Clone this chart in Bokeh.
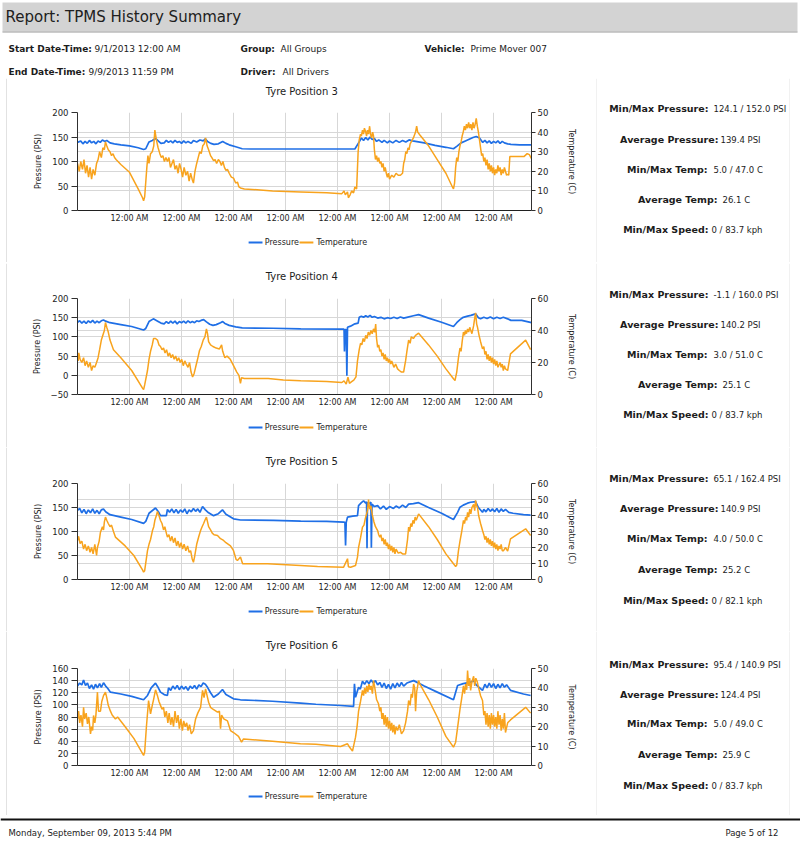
import datetime as dt
from bokeh.plotting import figure
from bokeh.models import Range1d, LinearAxis, Label, FixedTicker, DatetimeTickFormatter, Grid
from bokeh.layouts import column, row
from bokeh.embed import file_html
from bokeh.resources import INLINE

# ---------------- data ----------------
REPORT_TITLE = "Report: TPMS History Summary"
HEADER_FIELDS = [
    ("Start Date-Time:", "9/1/2013 12:00 AM"),
    ("Group:", "All Groups"),
    ("Vehicle:", "Prime Mover 007"),
    ("End Date-Time:", "9/9/2013 11:59 PM"),
    ("Driver:", "All Drivers"),
]
FOOTER_LEFT = "Monday, September 09, 2013 5:44 PM"
FOOTER_RIGHT = "Page 5 of 12"

START = dt.datetime(2013, 9, 1, 0, 0)
END_HOURS = 209.5                       # last sample, hours after START
DAY_TICKS = [1, 2, 3, 4, 5, 6, 7, 8]    # midnights shown on the time axis

SERIES_NAMES = ["Pressure", "Temperature"]
STAT_LABELS = ["Min/Max Pressure:", "Average Pressure:", "Min/Max Temp:", "Average Temp:", "Min/Max Speed:"]

TYRE_TITLES = ["Tyre Position  3", "Tyre Position  4", "Tyre Position  5", "Tyre Position  6"]

TYRE3_STATS = ["124.1 / 152.0 PSI", "139.4 PSI", "5.0 / 47.0 C", "26.1 C", "0 / 83.7 kph"]
TYRE4_STATS = ["-1.1 / 160.0 PSI", "140.2 PSI", "3.0 / 51.0 C", "25.1 C", "0 / 83.7 kph"]
TYRE5_STATS = ["65.1 / 162.4 PSI", "140.9 PSI", "4.0 / 50.0 C", "25.2 C", "0 / 82.1 kph"]
TYRE6_STATS = ["95.4 / 140.9 PSI", "124.4 PSI", "5.0 / 49.0 C", "25.9 C", "0 / 83.7 kph"]

TYRE3_P_TICKS = [0, 50, 100, 150, 200]
TYRE3_T_TICKS = [0, 10, 20, 30, 40, 50]
TYRE4_P_TICKS = [-50, 0, 50, 100, 150, 200]
TYRE4_T_TICKS = [0, 20, 40, 60]
TYRE5_P_TICKS = [0, 50, 100, 150, 200]
TYRE5_T_TICKS = [0, 10, 20, 30, 40, 50, 60]
TYRE6_P_TICKS = [0, 20, 40, 60, 80, 100, 120, 140, 160]
TYRE6_T_TICKS = [0, 10, 20, 30, 40, 50]

# (hours after start, PSI)
TYRE3_PRESSURE = [(0,139),(1.5,142),(2.5,136),(3.5,141),(4.5,137),(5.5,143),(6.5,138),(7.5,141),(8.5,136),(9.5,142),(10.5,139),(11.5,144),(12.5,141),(13.5,143),(15,138),(17,136),(20,134),(24,132),(28,128),(30.5,124.5),(31.5,126),(33,140),(34.5,143),(36,147),(37.5,141),(38.5,137),(40,138),(41,143),(42,139),(43,142),(44,138),(45,143),(46,139),(47,141),(48,137),(49,142),(50,138),(51,141),(52.5,137),(53.5,143),(55,140),(56.5,144),(58,142),(59,146),(60,141),(61.5,137),(63,135),(65,136),(67,141),(68.5,137),(70,134),(73,130),(76,126),(80,125.5),(128,125.5),(130,140),(131,148),(132,143),(133,149),(134,144),(135,150),(136,145),(137,147),(138,141),(139,144),(140.5,139),(141.5,143),(143,138),(144,142),(145.5,138),(147,143),(148.5,139),(150,143),(151.5,140),(153,144),(154.6,142),(160,138),(165,133),(170,129),(173.5,126),(175,131),(177,138),(179,142),(181,146),(182.5,149),(184,151),(185.5,148),(187,139),(188,143),(189,138),(190,142),(191,137),(192,141),(193,138),(194,142),(195,137),(196,141),(197,138),(198.5,136),(200,135),(204,134),(209.5,134)]
# (hours after start, deg C)
TYRE3_TEMPERATURE = [(0,24),(0.8,20),(1.5,25),(2.3,21),(3,26),(3.7,19),(4.4,23),(5.1,17),(5.8,22),(6.5,16),(7.2,21),(8,18),(8.8,24),(9.5,26),(10.2,30),(11,27),(11.7,32),(12.4,31),(12.9,35),(13.5,33),(14.2,31),(15,30),(15.7,28),(16.4,29),(17.1,27),(17.8,26),(20,23.5),(24,19.5),(28,11),(30,6.5),(30.5,5),(31,7),(32,22),(32.5,28),(33,24),(33.7,29),(34.5,30),(35.2,33),(35.7,41),(36.4,36),(37.2,32),(38,29),(38.7,27),(39.4,28),(40.1,25),(40.8,27),(41.5,25),(42.2,27),(42.9,22),(43.6,24),(44.3,26),(45,21),(45.7,23),(46.4,19),(47.1,24),(47.8,21),(48.5,17),(49.2,22),(50,18),(50.8,20),(51.5,15),(52.2,19),(52.9,16),(53.5,14),(54.2,20),(55,24),(55.7,27),(56.4,30),(57.1,29),(57.8,33),(58.5,34),(59.1,37),(59.8,33),(60.5,31),(61.4,28),(62,27),(62.8,25.5),(63.5,26),(64.2,24),(65,26),(65.7,25),(66.4,23),(67.1,25),(67.8,22),(68.5,20.5),(69.2,21),(70,19),(71,17),(72,16.5),(73,14),(73.8,14.5),(74.5,12),(75.2,11.5),(77,11),(90,10),(103,9.5),(115,9),(122,8.6),(123,10),(123.6,8),(124.6,9.5),(125,6.5),(125.8,8),(126.5,10),(127.4,9),(128,12),(128.8,11),(129.5,30),(130,36),(130.6,39),(131,38),(131.5,41),(132,39),(132.4,42),(133,40),(133.4,38),(133.8,41),(134.3,39),(134.8,43),(135.2,39),(135.7,37),(136.2,40),(136.6,38),(137,31),(137.5,26),(138,28),(138.5,25),(139,27),(139.5,24),(140,25),(140.5,22),(141,24),(141.5,20),(142,22),(142.5,19),(143,17),(143.5,19),(144,16),(145,18),(146,17),(147,19),(148,18),(149,18),(150,19),(150.5,24),(151,26),(151.5,30),(152,29),(152.5,32),(153,31),(153.5,34),(154,35),(155,37),(156,40),(156.5,43),(157,40),(158,38.5),(162,33),(166,26),(170,19),(173,12),(173.5,11),(174,14),(174.5,22),(175,27),(175.5,25),(176,30),(176.5,33),(177,35),(177.5,38),(178,40),(178.5,43),(179,41),(179.5,44),(180,42),(180.5,45),(181,42),(181.5,44),(182,41),(182.5,45),(183,42),(183.5,44),(184,47),(184.5,43),(185,40),(185.5,36),(186,32),(186.5,28),(187,29),(187.5,25),(188,27),(188.5,23),(189,26),(189.5,21),(190,24),(190.5,20),(191,23),(191.5,19),(192,22),(192.5,18),(193,21),(193.5,19),(194,23),(194.5,20),(195,22),(195.5,18),(196,21),(196.5,19),(197,22),(197.5,20),(198,18),(198.5,18.5),(199,18),(199.5,27.5),(206,27.5),(207.5,29),(208.5,28.5),(209.5,26.5)]

TYRE4_PRESSURE = [(0,138),(1,142),(2,136),(3,141),(4,135),(5,142),(6,137),(7,143),(8,136),(9,141),(10,137),(11,142),(12,144),(13,141),(15,137),(20,132),(25,127),(30.5,118),(31.5,122),(33,140),(35,147),(37,141),(38.5,136),(40,134),(41,140),(42,135),(43,141),(44,136),(45,141),(46,134),(47,140),(48,137),(49,141),(50,136),(51,142),(52,137),(53,140),(54,137),(55,142),(56,140),(57,143),(58.2,145),(59.5,139),(61,133),(62.5,130),(64,132),(66,137),(67,140),(68,135),(70,130),(73,126),(76,123.5),(90,122.5),(103,121),(123,120),(123.2,62),(123.5,119),(124,119),(124.3,-1),(124.6,125),(126,128),(128,134),(129.5,136),(130,151),(131,154),(132,151),(133,155),(134,152),(135,156),(136,151),(137,153),(138.5,149),(140,151),(141.5,147),(143,150),(144.5,148),(146,151),(147.5,148),(149,152),(150.5,149),(152,151),(155,155),(157.4,158),(162,149),(168,138),(173.5,127),(175,137),(176.5,145),(178,151),(180,154),(181.5,156),(183.7,160),(185,150),(186,147),(187.5,151),(189,148),(190.5,152),(192,147),(193.5,151),(195,148),(196.5,151),(198.5,147),(200,143),(205,143),(209.5,137)]
TYRE4_TEMPERATURE = [(0,24),(0.3,21),(0.6,26),(1.2,22),(2,20),(2.8,23),(3.5,18),(4.2,21),(5,17),(5.8,20),(6.5,15),(7.2,18),(8,17),(8.8,20),(9.5,23),(10.2,28),(11,34),(11.7,37),(12.4,40),(12.9,45),(13.5,42),(14.2,39),(15,34),(16.6,28),(20,23),(25,15),(30,4),(30.5,3),(31,6),(32.3,15),(33,22),(33.7,27),(34.5,31),(35.1,35),(36,35),(36.9,34),(37.6,31),(38.3,30),(39,28),(39.7,29),(40.4,26),(41.1,28),(41.8,24),(42.5,26),(43.2,23),(43.9,25),(44.6,22),(45.3,24),(46,21),(46.7,23),(47.4,20),(48.1,22),(48.8,18),(49.5,21),(50.2,19),(51,17),(51.7,20),(52.4,14),(53.1,11),(53.8,13),(54.5,17),(55.4,22),(56.3,27.5),(57.1,30),(58,34),(58.8,36),(59.5,41),(60,38),(60.5,33),(61.4,31),(62.5,30),(64,29),(65.5,28.5),(66.5,31),(67,27),(68,23),(69,24),(70.5,22),(72,18),(73.5,14),(74.5,12),(75.2,7),(75.7,10.5),(77,10),(88,10),(95,9),(103,8.6),(115,8.2),(122,7.5),(123,8.5),(124,6.5),(124.8,10.8),(125.5,7),(126.5,8),(127.5,9),(128.5,11),(129.2,21),(130,28),(130.6,32),(131.2,31),(131.8,35),(132.4,33),(133,37),(133.6,35),(134.2,39),(134.8,37),(135.4,40),(136,38),(136.6,41),(137.2,39),(137.6,44),(138,35),(138.5,29.5),(139,31),(139.5,27),(140,28),(140.5,24),(141,26),(141.5,22),(142,25),(142.5,21),(143,23),(143.5,20),(144,22),(144.5,19),(145,21),(146,17),(146.8,19),(147.7,16),(148.5,15),(149.5,14),(150.5,14),(151,18),(151.4,21),(152,27),(152.8,34),(153.5,32),(154,36),(155,35),(156,37),(157.4,38.3),(162,31),(166,24),(170,16),(173.5,9.8),(174.2,8.75),(175,14),(175.8,23),(176.5,29),(177,27),(177.5,33),(178.1,39),(178.6,37),(179,40),(179.5,38),(180,41),(180.5,39),(181,42),(181.5,40),(182,38),(182.8,43),(183.2,47),(183.7,51),(184.2,44),(184.6,42),(185.3,37),(186,33),(186.9,28.5),(187.5,30),(188,25),(188.5,27),(189,22),(189.5,25),(190,21),(190.5,24),(191,20),(191.5,23),(192,19),(192.5,22),(193,18),(193.5,21),(194,17),(195,20),(195.5,17),(196,19),(196.5,15),(197,18),(197.5,16),(198.5,15),(199.8,25.4),(206.8,34),(209.1,28)]

TYRE5_PRESSURE = [(0,144),(1,148),(2,139),(3,146),(4,137),(5,145),(6,139),(7,147),(8,138),(9,144),(10,137),(11,145),(12,147),(13,141),(15,135),(20,130),(25,125),(30.5,117),(31.5,121),(33,138),(36,149),(37.5,140),(38.3,133),(41,133),(41.5,146),(42.5,140),(43.5,147),(44.5,139),(45.5,146),(46.5,138),(47.5,145),(48.5,140),(49.5,147),(50.5,137),(51.5,145),(52.5,141),(53.5,148),(54.5,142),(55.5,147),(56.5,140),(57.7,152),(59,145),(60.5,139),(62.8,133),(65,137),(66.9,145),(68.5,136),(72,126.4),(75.2,124),(90.5,123),(103,121.5),(115,121),(122.8,119.4),(123.4,119),(123.7,71),(124,119),(124.6,130),(127,132),(129.2,133),(129.7,154),(131,160),(132,164),(133,159),(133.4,162),(133.6,65),(133.8,160),(134.5,158),(135.4,161),(135.6,66),(135.9,157),(137,152),(138.5,154),(139.8,147),(141.2,153),(142.5,146),(144,152),(145.8,148),(147,153),(148.5,149),(150,155),(151.5,150),(152.8,157),(155,158),(157.4,160),(162,150),(168,138),(173.5,125),(175.4,140),(176.5,150.6),(178,155),(180,159),(181.4,161),(183.7,162.4),(185,150),(186.9,140),(187.5,146),(188.5,141),(189.5,148),(190.5,142),(191.5,147),(192.5,141),(193.5,148),(194.5,140),(195.5,147),(196.5,142),(197.5,146),(199,140),(201,138),(205.8,135),(209.1,134)]
TYRE5_TEMPERATURE = [(0,24.4),(0.5,27),(1.2,22.5),(2,24),(2.8,19),(3.5,22),(4.2,18),(5,21),(5.8,17),(6.5,20),(7.2,16),(8,22),(8.8,15),(9.2,20),(10,24),(10.6,29.6),(11.5,33),(12,31),(12.4,36),(12.9,39),(13.5,37),(14.2,35),(15,33),(15.7,34),(16.6,30),(17.5,26.5),(22,21),(26,15),(30,6),(30.5,4.6),(31,5.5),(32.3,18),(33,22),(33.7,25),(34.6,30.6),(35.2,33),(35.7,37),(36.4,40),(36.9,42.5),(37.6,40),(38.3,36.9),(39,35),(39.7,31),(40.3,33),(41,29),(41.5,26.5),(42.2,28),(42.9,24),(43.6,27),(44.3,23),(45,26),(45.7,21),(46.4,24),(47.1,20),(47.8,23),(48.5,19),(49.2,22),(50,18),(50.8,21),(51.5,17),(52.2,18),(52.9,13),(53.5,10.8),(54,14),(55,22),(56,27),(56.8,30.6),(57.5,33),(58.2,35),(58.8,37),(59.5,39),(60,36),(60.5,33),(61.4,31),(62.2,29),(63,28),(64.6,27.5),(66,25.5),(67.4,24.4),(68.5,23),(70.6,21),(72,18),(73.2,12.5),(73.8,11.9),(75.2,14),(76.2,9.8),(87.7,9.8),(102.9,8.75),(110.8,8.1),(122.8,7.7),(124.6,13),(125,8),(126,7.7),(128.3,8.75),(129.2,14),(129.7,20),(130.6,26),(131.5,32.7),(132.2,34),(132.8,38),(133.8,43),(134.3,50),(134.8,44),(135.4,46),(136.1,40),(136.8,36),(137.5,33),(138.5,30.6),(139,28),(139.5,26.5),(140,28),(140.5,24),(141,26),(141.5,22),(142,25),(142.5,21),(143,23),(143.5,19),(144,22),(144.5,18),(145,21),(145.5,17),(146,20),(146.5,16),(147,19),(148,16.5),(149.1,17),(150,16),(151.4,16),(152.3,25),(152.8,32.7),(153.3,30),(153.8,35),(154.3,33),(154.8,37),(155.3,35),(155.8,39),(156.3,37),(157.4,41),(162,33),(166,25),(170,16),(173.5,9.8),(174.5,8.1),(175,9),(175.8,18),(176.5,24),(177.3,30),(178.1,36.9),(178.6,35),(179.1,39),(179.6,37),(180,42),(180.5,39),(181,44),(181.5,41),(182,45),(182.8,47),(183.3,43),(183.7,49.5),(184.2,46),(184.6,45),(185.1,40),(186,35),(186.9,30.6),(187.5,28),(188,25),(188.5,27),(189,23),(189.5,26),(190,22),(190.5,25),(191,21),(191.5,24),(192,20),(192.5,23),(193,19),(193.5,22),(194,18),(194.5,21),(195,19),(195.5,22),(196,18),(196.6,18),(197.5,20),(198.5,17.7),(199.8,25.4),(206.8,31.7),(209.1,27.5)]

TYRE6_PRESSURE = [(0,131),(1,136),(2,133),(2.8,141),(3.7,132),(4.6,136),(5.5,127),(6.5,133),(7.4,126),(8.3,134),(9.2,128),(10.2,135),(11,129),(12,136.5),(13,131),(14,127),(15.2,121),(20,118),(25,114),(30.5,108.4),(32.3,115.5),(34,128),(36,135.8),(37,130),(38.3,121),(40,117),(41.5,115.5),(42,128),(43,124),(44,131),(45,126),(46,132),(47,125),(48,131),(49,126),(50,130),(51,124),(52,131),(53,127),(54,132),(55,126),(56,133),(57,130),(58,136),(59,134),(60,129),(61.4,120),(62.8,112.7),(65,118),(66.9,125.4),(68.5,117),(72,110),(75.2,108.4),(90,106),(102.9,102.8),(110,101),(121.4,99),(127.4,97.4),(127.8,134.8),(128.3,112.7),(129.7,129),(130.5,126),(131.5,139),(132.5,134),(133.5,140),(134.5,135),(135.5,141),(136.5,136),(137.5,140),(138.5,133),(139.5,137),(140.5,129),(141.5,136),(142.5,127),(143.5,134),(144.5,126),(145.5,135),(146.5,128),(147.5,136),(148.5,130),(149.5,137),(150.5,131),(152,136),(155.1,140),(160,131),(166,121),(173.5,108.4),(175.4,132),(178,135),(181.4,137.5),(182.8,140),(184,133),(186.9,123.8),(188,134),(189,128),(190,136),(191,129),(192,135),(193,127),(194,134),(195,128),(196,135),(197,129),(198,133),(199.8,124),(205.8,118),(209.1,115.5)]
TYRE6_TEMPERATURE = [(0,24),(0.5,28),(1,22),(1.6,26),(2.3,20),(2.8,30),(3.3,24),(4,27),(4.6,21.5),(5.2,25),(6,16.3),(6.5,20),(7,18),(7.4,25.8),(8,22),(8.5,26),(9.2,37.8),(9.7,28),(10.6,28),(11.2,33),(12,36),(12.9,37.8),(13.5,35),(14.2,31),(15.2,28),(16,26),(17.5,24),(18.5,25),(22,20),(26,14),(30.5,5.2),(31,7),(31.8,20),(32.8,33.5),(33.7,26.6),(34.5,31),(35.1,34),(36,39),(36.9,36),(37.6,33),(38.3,31),(39,29),(39.7,30),(40.3,25),(41,28),(41.7,22),(42.3,27),(43,21),(43.6,25),(44.3,20),(45,28),(45.7,22),(46.4,26),(47,19),(47.7,24),(48.4,18),(49,23),(49.7,20),(50.4,22),(51,18),(51.7,21),(52.5,16.3),(53.5,18),(54.5,24),(55.5,27),(56.8,30),(57.7,38.7),(58.4,35),(59.1,39.5),(59.8,36),(60.5,32.6),(61.4,30),(62.5,29),(64.6,27.5),(65.5,28),(66,19),(66.5,26),(67.5,24),(69.2,23),(70.6,18),(72,17),(74.3,15),(75.7,12),(76.6,13.7),(90,12.5),(102.9,11.2),(110,11),(121.4,9.8),(124.6,11.2),(125.5,9.5),(126.9,7.4),(128.3,14.6),(129,20),(129.7,28),(130.6,33),(131.5,38.7),(132,36),(132.5,40),(133,37),(133.5,41),(134,38),(134.5,42),(135,39),(135.5,41),(136.1,37),(136.6,43.8),(137.2,40),(138,34),(138.9,31.8),(139.5,28),(140,30),(140.5,24),(141,27),(141.5,21),(142,26),(142.5,20),(143,25),(143.5,19),(144,23),(144.5,18),(145,22),(145.5,17),(146,21),(146.5,16),(147,20),(147.7,18),(148.5,21),(149.5,16.3),(150.5,18),(151.4,22),(152.3,28),(152.8,33.5),(153.5,31),(154,37),(154.5,35),(155.1,42),(155.6,40),(156,28),(156.5,38),(157.4,43.8),(158,42),(162,34),(166,25),(170,15),(173.5,9.5),(174.5,12),(175.8,23),(176.5,29),(177.2,34),(178.1,41),(178.6,37),(179.1,42),(179.6,39),(180,49),(180.5,41),(181,45),(181.4,38.7),(182,43),(182.8,46),(183.3,41),(183.8,45),(184.5,43),(185.1,40),(186,36),(186.9,33.5),(187.5,26),(188,28),(188.5,21),(189,27),(189.5,20),(190,26),(190.5,19),(191,27),(191.5,21),(192,26),(192.5,20),(193,25),(193.5,19),(194,28),(194.5,21),(195,26),(195.5,18),(196,24),(196.5,19),(197,27),(197.5,17),(198.5,22),(199.8,23.5),(206.8,30),(209.1,27)]

# ---------------- style ----------------
FONT = "DejaVu Sans"
TEXT = "#1c1c1c"
BLUE = "#1f6fe6"
ORANGE = "#f8a31d"
BORDER = "#c6c6c6"
GRID = "#d7d7d7"
HEADER_BG = "#d3d3d3"

EPOCH = dt.datetime(1970, 1, 1)
START_MS = (START - EPOCH).total_seconds() * 1000.0
HOUR_MS = 3600.0 * 1000.0


def to_ms(hours):
    return [START_MS + h * HOUR_MS for h in hours]


def canvas(w, h, bg="white"):
    f = figure(width=w, height=h, x_range=Range1d(0, w), y_range=Range1d(h, 0),
               output_backend="svg", toolbar_location=None, min_border=0,
               x_axis_location=None, y_axis_location=None,
               background_fill_color=bg, border_fill_color=bg, outline_line_color=None)
    f.grid.visible = False
    return f


def lbl(f, x, y, text, size="9px", bold=False, align="left", baseline="middle", color=TEXT, font=FONT):
    f.add_layout(Label(x=x, y=y, text=text, text_font=font, text_font_size=size,
                       text_font_style="bold" if bold else "normal", text_color=color,
                       text_align=align, text_baseline=baseline))


def edge_canvas(w, h, line_x):
    f = canvas(w, h)
    f.quad(left=line_x, right=line_x + 1, top=0, bottom=h, fill_color=BORDER, line_color=None)
    return f


def hline(w=790, x0=6):
    f = canvas(w, 1)
    f.quad(left=x0, right=w, top=0, bottom=1, fill_color=BORDER, line_color=None)
    return f


# ---------------- header ----------------
W = 800
header = canvas(W, 77)
header.quad(left=2, right=797, top=2, bottom=32, fill_color=HEADER_BG, line_color=None)
header.segment(x0=2, y0=31.5, x1=797, y1=31.5, line_color="#b0b0b0", line_width=1)
lbl(header, 5, 16.5, REPORT_TITLE, size="15px", baseline="alphabetic", color="#202020")
header_pos = [(8, 94, 48), (240, 280, 48), (424, 470, 48), (8, 88, 71), (240, 282, 71)]
for (name, val), (xl, xv, y) in zip(HEADER_FIELDS, header_pos):
    lbl(header, xl, y, name, size="9px", bold=True)
    lbl(header, xv, y, val, size="9px")

# ---------------- charts ----------------
FMT = DatetimeTickFormatter(microseconds="%I:%M %p", milliseconds="%I:%M %p", seconds="%I:%M %p",
                            minsec="%I:%M %p", minutes="%I:%M %p", hourmin="%I:%M %p",
                            hours="%I:%M %p", days="%I:%M %p", months="%I:%M %p", years="%I:%M %p")

CHART_W = 589   # page x 7 .. 596


def chart(pres, temp, pticks, tticks, fh):
    p = figure(width=CHART_W, height=10 + fh + 16, x_axis_type="datetime",
               x_range=Range1d(START_MS, START_MS + END_HOURS * HOUR_MS),
               y_range=Range1d(pticks[0], pticks[-1]),
               output_backend="svg", toolbar_location=None,
               min_border_left=70, min_border_right=65, min_border_top=10, min_border_bottom=16,
               background_fill_color="white", border_fill_color="white", outline_line_color=None)
    p.extra_y_ranges = {"temp": Range1d(tticks[0], tticks[-1])}

    xt = FixedTicker(ticks=to_ms([d * 24 for d in DAY_TICKS]))
    xa = p.xaxis[0]
    xa.ticker = xt
    xa.formatter = FMT
    xa.major_tick_out = 0
    xa.major_tick_in = 0
    xa.minor_tick_out = 0
    xa.minor_tick_in = 0
    xa.axis_line_color = "#202020"
    xa.major_label_text_font = FONT
    xa.major_label_text_font_size = "8px"
    xa.major_label_text_color = TEXT
    xa.major_label_standoff = 3

    lt = FixedTicker(ticks=pticks)
    ya = p.yaxis[0]
    ya.ticker = lt
    ya.axis_label = "Pressure (PSI)"
    ya.axis_label_text_font = FONT
    ya.axis_label_text_font_size = "8px"
    ya.axis_label_text_font_style = "normal"
    ya.axis_label_text_color = TEXT
    ya.axis_label_standoff = 6
    ya.major_tick_out = 6
    ya.major_tick_in = 0
    ya.minor_tick_out = 0
    ya.minor_tick_in = 0
    ya.axis_line_color = "#303030"
    ya.major_tick_line_color = "#303030"
    ya.major_label_text_font = FONT
    ya.major_label_text_font_size = "8.5px"
    ya.major_label_text_color = TEXT
    ya.major_label_standoff = 3

    rt_ticker = FixedTicker(ticks=tticks)
    ra = LinearAxis(y_range_name="temp", ticker=rt_ticker, axis_label="Temperature (C)")
    ra.axis_label_text_font = FONT
    ra.axis_label_text_font_size = "8px"
    ra.axis_label_text_font_style = "normal"
    ra.axis_label_text_color = TEXT
    ra.axis_label_standoff = 16
    ra.major_tick_out = 4
    ra.major_tick_in = 0
    ra.minor_tick_out = 0
    ra.minor_tick_in = 0
    ra.axis_line_color = "#303030"
    ra.major_tick_line_color = "#303030"
    ra.major_label_text_font = FONT
    ra.major_label_text_font_size = "8.5px"
    ra.major_label_text_color = TEXT
    ra.major_label_standoff = 2
    p.add_layout(ra, "right")

    p.xgrid.ticker = xt
    p.ygrid.ticker = lt
    p.xgrid.grid_line_color = GRID
    p.ygrid.grid_line_color = GRID
    p.add_layout(Grid(dimension=1, ticker=rt_ticker, y_range_name="temp", grid_line_color=GRID))

    ph, pv = zip(*pres)
    th, tv = zip(*temp)
    p.line(to_ms(ph), list(pv), line_color=BLUE, line_width=1.7)
    p.line(to_ms(th), list(tv), line_color=ORANGE, line_width=1.5, y_range_name="temp")
    return p


def title_canvas(text, h, y):
    f = canvas(CHART_W, h)
    lbl(f, 293, y, text, size="10px", align="center")
    return f


def legend_canvas(h, y):
    # swatches + names, page x: 229-247 / 250, 295-313 / 317
    f = canvas(CHART_W, h)
    f.segment(x0=[222, 288], y0=[y, y], x1=[240, 306], y1=[y, y], line_color=[BLUE, ORANGE], line_width=2)
    lbl(f, 243, y, SERIES_NAMES[0], size="8px")
    lbl(f, 310, y, SERIES_NAMES[1], size="8px")
    return f


def stats(values, ys, h=184):
    f = canvas(192, h)
    rights = [111, 121, 110, 120, 111]
    lefts = [116, 123, 116, 125, 114]
    for name, val, y, xr, xl in zip(STAT_LABELS, values, ys, rights, lefts):
        lbl(f, xr, y, name, size="9.5px", bold=True, align="right")
        lbl(f, xl, y, val, size="8.5px")
    return f


panels = [
    # title, pressure, temperature, p ticks, t ticks, stats, frame h, title h, title y, legend h, legend y, stat ys
    (TYRE_TITLES[0], TYRE3_PRESSURE, TYRE3_TEMPERATURE, TYRE3_P_TICKS, TYRE3_T_TICKS, TYRE3_STATS, 98, 24, 13, 36, 16, [30, 61, 91, 121, 151]),
    (TYRE_TITLES[1], TYRE4_PRESSURE, TYRE4_TEMPERATURE, TYRE4_P_TICKS, TYRE4_T_TICKS, TYRE4_STATS, 96, 25, 13, 37, 17, [31, 61, 91, 121, 151]),
    (TYRE_TITLES[2], TYRE5_PRESSURE, TYRE5_TEMPERATURE, TYRE5_P_TICKS, TYRE5_T_TICKS, TYRE5_STATS, 96, 26, 14, 36, 16, [31, 61, 91, 122, 153]),
    (TYRE_TITLES[3], TYRE6_PRESSURE, TYRE6_TEMPERATURE, TYRE6_P_TICKS, TYRE6_T_TICKS, TYRE6_STATS, 97, 27, 14, 34, 15, [33, 63, 92, 123, 154]),
]

rows = []
for title, pr, te, pt, tt, st, fh, th, ty, lh, ly, ys in panels:
    left = column(title_canvas(title, th, ty), chart(pr, te, pt, tt, fh), legend_canvas(lh, ly))
    rows.append(row(edge_canvas(7, 184, 6), left, edge_canvas(1, 184, 0), stats(st, ys),
                    edge_canvas(1, 184, 0)))

# ---------------- footer ----------------
footer = canvas(W, 29)
footer.quad(left=0, right=W, top=2, bottom=4, fill_color="#111111", line_color=None)
lbl(footer, 8, 16, FOOTER_LEFT, size="8.5px")
lbl(footer, 778, 16, FOOTER_RIGHT, size="8.5px", align="right")

page = column(header, hline(), rows[0], hline(), rows[1], rows[2], rows[3], hline(), footer)

open("out.html", "w").write(file_html(page, INLINE))
